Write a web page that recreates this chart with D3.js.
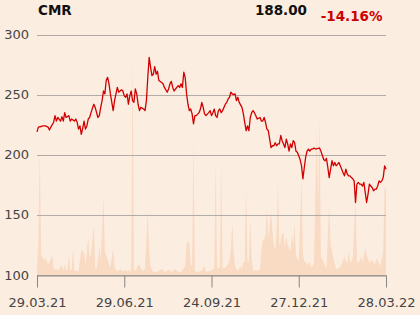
<!DOCTYPE html>
<html>
<head>
<meta charset="utf-8">
<script src="https://cdn.jsdelivr.net/npm/d3@7"></script>
<style>
  html, body { margin: 0; padding: 0; background: #fcede1; }
  svg { display: block; font-family: "DejaVu Sans", sans-serif; }
  .grid line { stroke: #b3aca6; stroke-width: 1; }
  .x-axis path, .x-axis line { stroke: #8a8580; }
  .x-axis text, .y-label { fill: #444; font-size: 13px; }
</style>
</head>
<body>
<div id="chart"></div>
<script>
// header
const symbol = "CMR";
const lastPrice = "188.00";
const change = "-14.16%";

// x axis: trading day index and labels
const xTickDays = [0, 63, 126, 189, 252];
const xTickLabels = ["29.03.21", "29.06.21", "24.09.21", "27.12.21", "28.03.22"];
const yTicks = [100, 150, 200, 250, 300];

// closing prices (trading day index, price)
const priceDays = [0, 1, 3, 4, 6, 8, 9, 10, 12, 13, 14, 15, 17, 18, 19, 20, 21, 23, 24, 25, 27, 28, 29, 30, 31, 32, 33, 34, 35, 36, 37, 38, 39, 41, 42, 44, 45, 46, 47, 48, 49, 50, 51, 52, 53, 55, 56, 58, 59, 61, 62, 63, 64, 65, 66, 67, 68, 69, 70, 71, 72, 73, 74, 75, 77, 78, 79, 80, 81, 82, 83, 84, 85, 86, 87, 88, 90, 91, 92, 94, 95, 96, 97, 98, 99, 100, 102, 103, 104, 105, 106, 107, 108, 109, 110, 111, 112, 113, 114, 115, 117, 118, 119, 120, 121, 122, 124, 125, 126, 127, 128, 129, 130, 131, 132, 133, 134, 136, 137, 138, 139, 140, 141, 142, 143, 144, 145, 146, 148, 149, 150, 151, 152, 153, 154, 155, 156, 157, 158, 159, 161, 162, 163, 164, 165, 166, 167, 168, 169, 170, 171, 172, 173, 174, 175, 176, 177, 178, 179, 180, 181, 182, 183, 184, 185, 186, 187, 188, 189, 190, 191, 192, 193, 194, 195, 196, 197, 198, 199, 200, 201, 203, 204, 205, 207, 208, 209, 210, 211, 212, 213, 214, 215, 216, 217, 218, 219, 220, 221, 222, 223, 224, 225, 226, 227, 228, 229, 230, 231, 232, 233, 234, 235, 236, 237, 238, 239, 240, 241, 242, 243, 244, 245, 246, 247, 248, 249, 250, 251, 252];
const prices = [219, 223, 223.5, 224, 224, 223, 220.5, 223, 227, 232.5, 228, 231, 228, 231.7, 228, 235, 231, 232.5, 228, 229.7, 228, 229.7, 227, 221.4, 224, 217, 222, 228, 221.4, 224, 229.7, 231, 235, 242, 239.4, 231, 232.5, 239.4, 245, 253, 250.6, 262, 264.4, 259, 250.6, 236.7, 245, 256, 252, 254, 253, 249, 247.8, 250.6, 242, 249, 253, 245, 243.6, 254.7, 250.6, 242, 236.7, 239.4, 238, 236.7, 245, 264.4, 281, 272.8, 265.8, 267, 273.3, 267, 269.4, 261.7, 260, 259, 256, 252, 254.7, 259, 261, 256, 253, 254.7, 257.5, 256, 259, 256, 268.6, 264.4, 250.6, 242, 236.7, 238, 234, 225.6, 232.5, 232.5, 235, 238, 243.6, 239.4, 234, 232.5, 235, 236.7, 232.5, 235, 238, 232.5, 231, 236.7, 238, 235, 236.7, 242, 243.6, 246.4, 247.8, 252, 250.6, 250, 250.6, 245, 247.8, 243.6, 239.4, 234, 227, 220, 224, 220, 231, 235, 236.7, 235, 232.5, 229.7, 231, 228, 228, 231, 227, 221.4, 220, 213, 206, 207.5, 207.5, 210, 207.5, 209, 209, 216, 211.7, 209, 206, 213, 209, 203, 209, 206, 211.7, 210, 203, 202, 199, 196, 190.8, 180, 189.4, 198, 203, 204.7, 203, 204.7, 204.7, 205.6, 204.7, 205.3, 205.6, 203, 196, 195, 197, 189.4, 181, 188, 195, 190.8, 193.6, 190.8, 192, 193.6, 190.8, 188, 185, 182.5, 188, 184, 182.5, 182.5, 181, 180, 178.3, 160.3, 175.6, 177, 175.6, 175.6, 174, 177, 168.6, 160.3, 167, 175.6, 174, 172.8, 170, 171.4, 171.4, 174, 178.3, 177, 178.3, 181, 190.8, 188];

// traded volume (trading day index, thousands of shares)
const volumeDays = [0, 1, 2, 3, 4, 5, 6, 7, 8, 10, 11, 12, 13, 14, 15, 16, 18, 19, 20, 21, 22, 23, 24, 25, 26, 27, 28, 29, 30, 32, 33, 34, 35, 37, 38, 39, 41, 42, 43, 44, 45, 46, 48, 49, 50, 51, 53, 55, 56, 57, 59, 60, 61, 62, 64, 65, 66, 67, 68, 69, 70, 71, 73, 74, 76, 78, 80, 81, 82, 84, 86, 88, 90, 92, 95, 97, 100, 102, 104, 107, 108, 109, 110, 111, 112, 113, 114, 116, 119, 121, 122, 125, 127, 128, 129, 130, 131, 132, 133, 134, 135, 136, 137, 138, 139, 140, 141, 142, 143, 144, 145, 146, 147, 148, 149, 150, 151, 152, 153, 154, 155, 156, 157, 158, 159, 160, 161, 162, 163, 164, 165, 166, 167, 168, 169, 170, 171, 172, 173, 174, 175, 176, 177, 178, 179, 180, 181, 182, 183, 184, 185, 186, 187, 188, 189, 191, 192, 193, 194, 195, 197, 198, 199, 200, 202, 203, 204, 205, 206, 207, 209, 211, 212, 213, 214, 216, 219, 221, 222, 223, 224, 225, 226, 228, 230, 231, 233, 234, 235, 237, 238, 240, 242, 244, 245, 247, 248, 250, 251, 252];
const volumes = [80, 300, 1240, 200, 170, 150, 170, 140, 100, 160, 200, 70, 50, 60, 50, 60, 100, 40, 110, 50, 50, 210, 50, 50, 270, 50, 40, 40, 40, 250, 240, 220, 100, 370, 180, 200, 490, 80, 60, 150, 290, 140, 770, 230, 200, 150, 70, 270, 80, 50, 40, 60, 50, 40, 50, 40, 50, 40, 50, 2220, 50, 40, 100, 100, 40, 60, 640, 240, 80, 30, 30, 40, 60, 30, 50, 30, 60, 30, 30, 90, 310, 340, 320, 100, 100, 1330, 40, 30, 40, 90, 30, 40, 60, 60, 1110, 60, 70, 70, 1110, 60, 70, 70, 90, 110, 140, 250, 510, 240, 80, 60, 40, 60, 90, 50, 130, 130, 890, 120, 140, 570, 160, 50, 40, 50, 40, 50, 50, 240, 350, 360, 400, 660, 370, 500, 640, 440, 300, 240, 450, 920, 280, 350, 420, 420, 270, 380, 310, 260, 240, 400, 300, 510, 200, 160, 140, 950, 210, 140, 130, 100, 130, 80, 90, 110, 1460, 600, 1590, 170, 170, 120, 60, 710, 300, 240, 170, 60, 80, 140, 190, 140, 120, 240, 120, 170, 740, 120, 140, 190, 120, 270, 200, 120, 150, 100, 170, 120, 90, 240, 890, 850];

const width = 420, height = 315;
const margin = {left: 37, right: 386, top: 34.5, bottom: 275};

const svg = d3.select("#chart").append("svg")
    .attr("width", width)
    .attr("height", height);

const x = d3.scaleLinear().domain([0, 252]).range([margin.left, margin.right]);
const y = d3.scaleLinear().domain([100, 300]).range([margin.bottom, margin.top]);
const yVol = d3.scaleLinear().domain([0, 2400]).range([margin.bottom, margin.top + 0.5]);

// volume area behind everything
const volData = volumeDays.map((d, i) => ({day: d, v: volumes[i]}));
svg.append("path")
    .datum(volData)
    .attr("fill", "#f9dac3")
    .attr("d", d3.area()
        .x(d => x(d.day))
        .y0(margin.bottom)
        .y1(d => yVol(d.v)));

// horizontal grid
const grid = svg.append("g").attr("class", "grid");
grid.selectAll("line")
    .data(yTicks)
    .enter()
    .append("line")
    .attr("x1", margin.left)
    .attr("x2", margin.right)
    .attr("y1", d => Math.round(y(d)) + 0.5)
    .attr("y2", d => Math.round(y(d)) + 0.5);

svg.selectAll(".y-label")
    .data(yTicks)
    .enter()
    .append("text")
    .attr("class", "y-label")
    .attr("x", 29)
    .attr("y", d => y(d))
    .attr("dy", "0.35em")
    .attr("text-anchor", "end")
    .text(d => d);

// bottom axis
const xAxis = d3.axisBottom(x)
    .tickValues(xTickDays)
    .tickFormat((d, i) => xTickLabels[i])
    .tickSize(12)
    .tickSizeOuter(0)
    .tickPadding(10);

svg.append("g")
    .attr("class", "x-axis")
    .attr("transform", "translate(0," + (Math.round(margin.bottom) + 0.5) + ")")
    .call(xAxis)
    .call(g => g.selectAll("text").style("font-family", "DejaVu Sans").style("font-size", "13px"));

// price line
const priceData = priceDays.map((d, i) => ({day: d, p: prices[i]}));
svg.append("path")
    .datum(priceData)
    .attr("fill", "none")
    .attr("stroke", "#d10000")
    .attr("stroke-width", 1.3)
    .attr("stroke-linejoin", "round")
    .attr("d", d3.line()
        .x(d => x(d.day))
        .y(d => y(d.p)));

// header texts
svg.append("text")
    .attr("x", 38)
    .attr("y", 15)
    .attr("font-weight", "bold")
    .attr("font-size", "13.5px")
    .attr("fill", "#111")
    .text(symbol);

svg.append("text")
    .attr("x", 307)
    .attr("y", 14.5)
    .attr("text-anchor", "end")
    .attr("font-weight", "bold")
    .attr("font-size", "13.5px")
    .attr("fill", "#111")
    .text(lastPrice);

svg.append("text")
    .attr("x", 382.5)
    .attr("y", 20.5)
    .attr("text-anchor", "end")
    .attr("font-weight", "bold")
    .attr("font-size", "13.5px")
    .attr("fill", "#cc0000")
    .text(change);
</script>
</body>
</html>
